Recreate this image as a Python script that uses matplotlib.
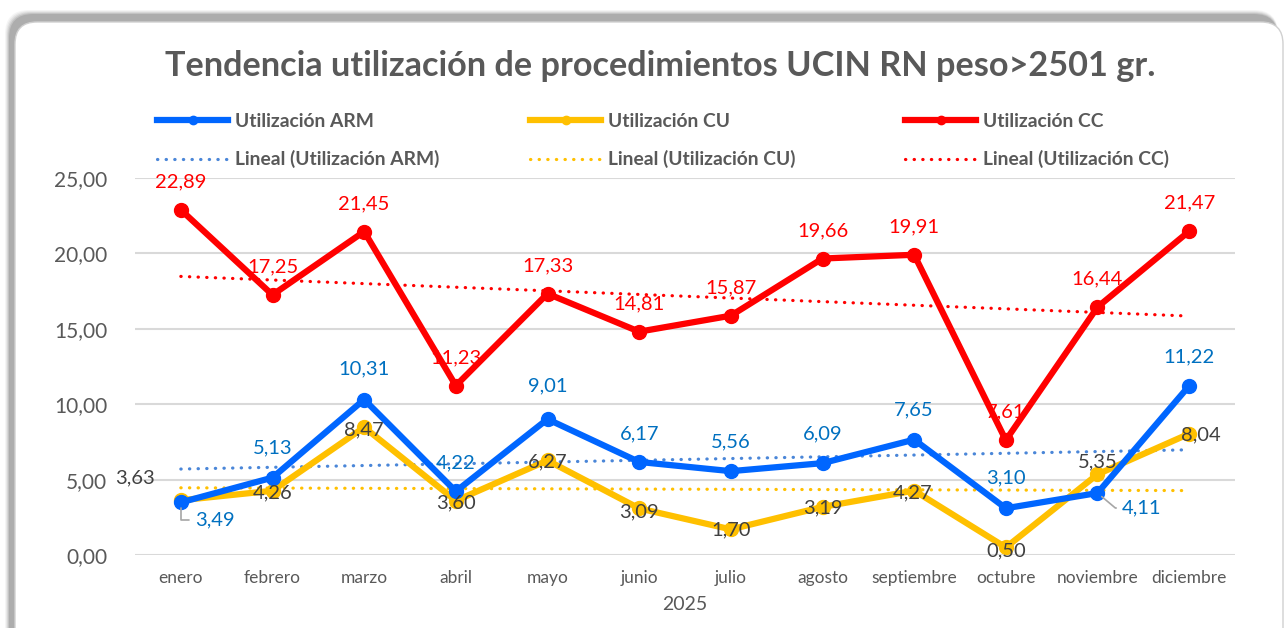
import numpy as np
import matplotlib
matplotlib.use("Agg")
import matplotlib.pyplot as plt
from matplotlib.lines import Line2D
from matplotlib.patches import FancyBboxPatch
from matplotlib.transforms import IdentityTransform

plt.rcParams['font.family'] = ['Lato', 'DejaVu Sans']

months = ["enero", "febrero", "marzo", "abril", "mayo", "junio", "julio",
          "agosto", "septiembre", "octubre", "noviembre", "diciembre"]
arm = [3.49, 5.13, 10.31, 4.22, 9.01, 6.17, 5.56, 6.09, 7.65, 3.10, 4.11, 11.22]
cu = [3.63, 4.26, 8.47, 3.60, 6.27, 3.09, 1.70, 3.19, 4.27, 0.50, 5.35, 8.04]
cc = [22.89, 17.25, 21.45, 11.23, 17.33, 14.81, 15.87, 19.66, 19.91, 7.61, 16.44, 21.47]
yticks = [0, 5, 10, 15, 20, 25]
title = "Tendencia utilización de procedimientos UCIN RN peso>2501 gr."
xlabel = "2025"

C_ARM, C_CU, C_CC = "#0066FF", "#FFC000", "#FF0000"
C_ARM_T = "#4A86D8"
C_ARM_L, C_CU_L, C_CC_L = "#0070C0", "#404040", "#FF0000"
GRAY = "#595959"

W, H = 1287, 628
fig = plt.figure(figsize=(W / 100, H / 100), dpi=100)

# frame with shadow (pixel coordinates)
for i, a in enumerate([0.04, 0.05, 0.07, 0.09, 0.11]):
    d = 5 - i
    sh = FancyBboxPatch((15 - 5 - d, -40), 1268 + d, 646 + 7 + d,
                        boxstyle="round,pad=0,rounding_size=24",
                        transform=IdentityTransform(), facecolor="#000000",
                        edgecolor="none", alpha=a, zorder=-3)
    fig.patches.append(sh)
frame = FancyBboxPatch((15, -40), 1268, 646,
                       boxstyle="round,pad=0,rounding_size=22",
                       transform=IdentityTransform(), facecolor="white",
                       edgecolor="#D0D0D0", lw=1, zorder=-2)
fig.patches.append(frame)

ax = fig.add_axes([135 / W, 1 - 555 / H, 1100 / W, 377 / H])
ax.set_zorder(1)
ax.set_facecolor("none")
x = np.arange(len(months))

ax.set_ylim(0, 25)
ax.set_xlim(-0.5, len(months) - 0.5)
ax.set_yticks(yticks)
ax.set_yticklabels([f"{v:.2f}".replace(".", ",") for v in yticks],
                   fontsize=15, color=GRAY)
ax.set_xticks(x)
ax.set_xticklabels(months, fontsize=12.5, color=GRAY)
ax.tick_params(axis="y", length=0, pad=20)
ax.tick_params(axis="x", length=0, pad=11)
ax.grid(axis="y", color="#D9D9D9", lw=1.5)
ax.set_axisbelow(True)
for s in ax.spines.values():
    s.set_visible(False)
ax.set_xlabel(xlabel, fontsize=14, color=GRAY, labelpad=7)

lw_main = 4.5
ms = 10
dot_ls = (0, (0.1, 2.6))

series = [(arm, C_ARM, C_ARM_T, "ARM"), (cu, C_CU, C_CU, "CU"), (cc, C_CC, C_CC, "CC")]
for vals, c, ct, name in series:
    coef = np.polyfit(x + 1, vals, 1)
    ax.plot(x, np.polyval(coef, x + 1), ls=dot_ls, color=ct, lw=2.3,
            dash_capstyle="round", zorder=2)
for vals, c, ct, name in [series[1], series[0], series[2]]:
    ax.plot(x, vals, color=c, lw=lw_main, marker="o", ms=ms,
            solid_joinstyle="round", zorder=3)

k = 1 / 1.389  # px -> pt
def fmt(v):
    return f"{v:.2f}".replace(".", ",")

lab_fs = 14.5
# CC labels: above
for i, v in enumerate(cc):
    ax.annotate(fmt(v), (i, v), xytext=(0, 28 * k), textcoords="offset points",
                ha="center", va="center", fontsize=lab_fs, color=C_CC_L, zorder=5)

# ARM labels
arm_off = [(34, -18), (0, 30), (0, 31), (0, 28), (0, 33), (0, 28), (0, 29),
           (0, 29), (0, 30), (0, 30), (44, -15), (0, 29)]
for i, v in enumerate(arm):
    dx, dy = arm_off[i]
    if i in (0, 10):
        conn = "angle,angleA=0,angleB=90,rad=0" if i == 0 else "angle,angleA=0,angleB=-40,rad=0"
        ax.annotate(fmt(v), (i, v), xytext=(dx * k, dy * k), textcoords="offset points",
                    ha="center", va="center", fontsize=lab_fs, color=C_ARM_L, zorder=5,
                    arrowprops=dict(arrowstyle="-", color="#A6A6A6", lw=1.2,
                                    connectionstyle=conn, relpos=(0, 0.5),
                                    shrinkA=2, shrinkB=4))
    else:
        ax.annotate(fmt(v), (i, v), xytext=(dx * k, dy * k), textcoords="offset points",
                    ha="center", va="center", fontsize=lab_fs, color=C_ARM_L, zorder=5)

# CU labels
cu_off = [(-46, 22), (0, -2), (0, -3), (0, -2), (0, -1), (0, -3), (0, -1),
          (0, -1), (-2, -2), (0, -3), (0, 12), (12, -1)]
for i, v in enumerate(cu):
    dx, dy = cu_off[i]
    ax.annotate(fmt(v), (i, v), xytext=(dx * k, dy * k), textcoords="offset points",
                ha="center", va="center", fontsize=lab_fs, color=C_CU_L, zorder=5)

# Title
fig.text(660 / W, 1 - 66 / H, title, ha="center", va="center", fontsize=24.7,
         fontweight="bold", color=GRAY)

# Legends: three columns
leg_fs = 13.9
for (vals, c, ct, name), xpx in zip(series, [157, 530, 905]):
    handles = [Line2D([], [], color=c, lw=lw_main, marker="o", ms=6),
               Line2D([], [], color=ct, lw=2.3, ls=dot_ls, dash_capstyle="round")]
    labels = [f"Utilización {name}", f"Lineal (Utilización {name})"]
    lg = fig.legend(handles, labels, loc="upper left",
                    bbox_to_anchor=(xpx / W, 1 - 113 / H), frameon=False,
                    fontsize=leg_fs, handlelength=3.7, handletextpad=0.35,
                    labelspacing=1.05, borderaxespad=0, borderpad=0)
    for t in lg.get_texts():
        t.set_color(GRAY)
        t.set_fontweight("bold")

fig.savefig("out.png", dpi=100)
